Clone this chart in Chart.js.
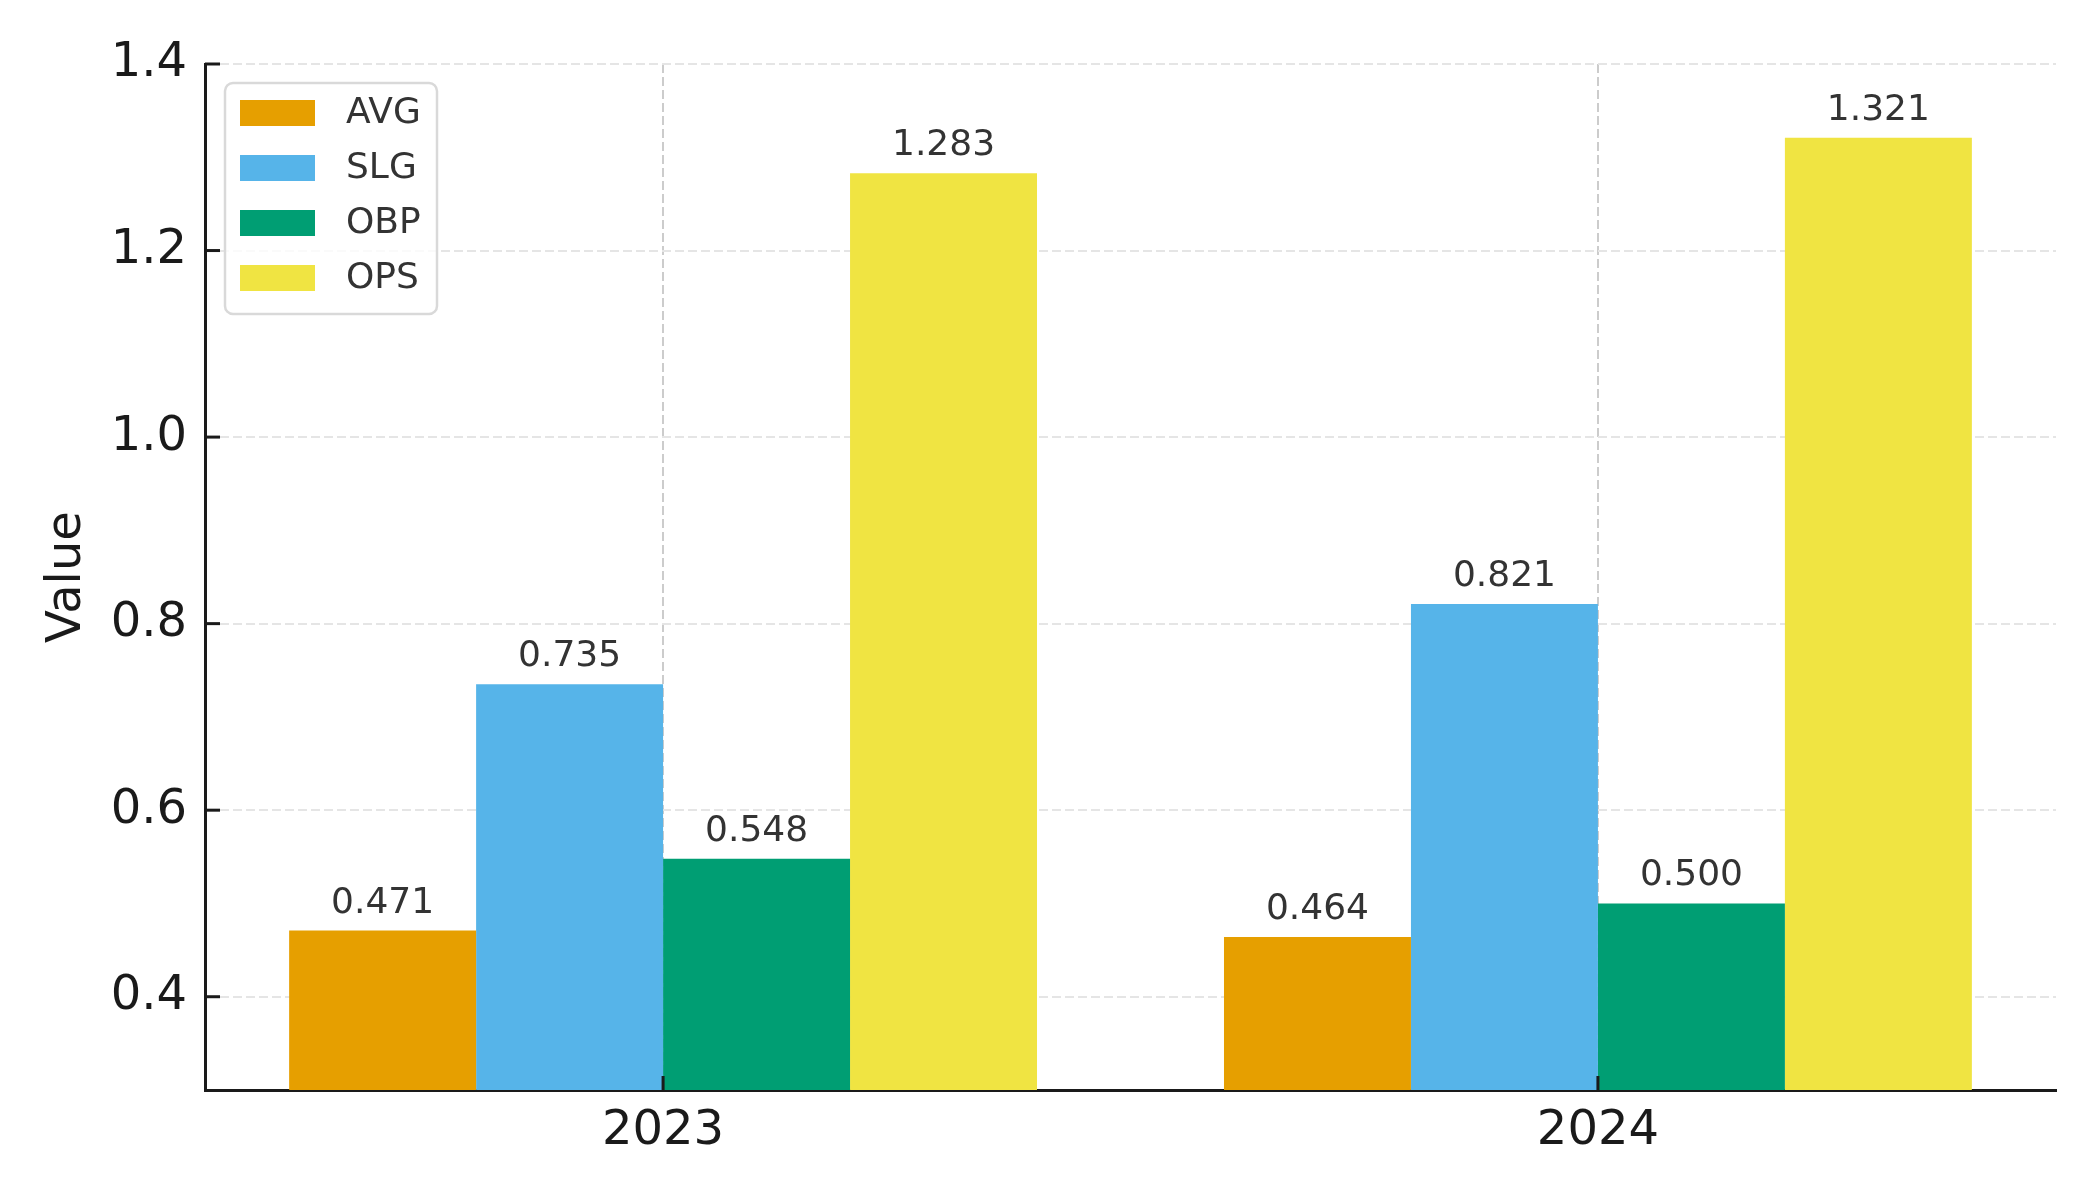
<!DOCTYPE html>
<html><head><meta charset="utf-8">
<script src="https://cdn.jsdelivr.net/npm/chart.js@4/dist/chart.umd.min.js"></script>
<style>html,body{margin:0;padding:0;background:#fff;}#wrap{width:2100px;height:1200px;}</style>
</head><body><div id="wrap"><canvas id="c" width="2100" height="1200"></canvas></div>
<script>
const categories = ['2023', '2024'];
const seriesNames = ['AVG', 'SLG', 'OBP', 'OPS'];
const avgValues = [0.471, 0.464];
const slgValues = [0.735, 0.821];
const obpValues = [0.548, 0.500];
const opsValues = [1.283, 1.321];
const seriesColors = ['#E69F00', '#56B4E9', '#009E73', '#F0E442'];
const yTickValues = [0.4, 0.6, 0.8, 1.0, 1.2, 1.4];
const yMin = 0.3, yMax = 1.4;
const xMin = -0.49, xMax = 1.49;

const allSeries = [avgValues, slgValues, obpValues, opsValues];
const FONT = "'DejaVu Sans', sans-serif";
const DARK = '#1a1a1a';

const datasets = allSeries.map((vals, s) => ({
  label: seriesNames[s],
  data: vals.map((v, i) => ({x: i, y: v})),
  backgroundColor: seriesColors[s],
  borderWidth: 0,
  categoryPercentage: 0.8,
  barPercentage: 1.0
}));

const innerTicks = {
  id: 'innerTicks',
  afterDraw(chart) {
    const ctx = chart.ctx, a = chart.chartArea;
    const xs = chart.scales.x, ys = chart.scales.y;
    ctx.save();
    ctx.strokeStyle = DARK; ctx.lineWidth = 3;
    ys.ticks.forEach((t, i) => {
      const y = ys.getPixelForTick(i);
      ctx.beginPath(); ctx.moveTo(a.left, y); ctx.lineTo(a.left + 15, y); ctx.stroke();
    });
    xs.ticks.forEach((t, i) => {
      const x = xs.getPixelForTick(i);
      ctx.beginPath(); ctx.moveTo(x, a.bottom); ctx.lineTo(x, a.bottom - 14); ctx.stroke();
    });
    ctx.restore();
  }
};

const valueLabels = {
  id: 'valueLabels',
  afterDraw(chart) {
    const ctx = chart.ctx;
    ctx.save();
    ctx.font = '36px ' + FONT;
    ctx.fillStyle = '#333333';
    ctx.textAlign = 'center';
    ctx.textBaseline = 'alphabetic';
    chart.data.datasets.forEach((ds, d) => {
      const meta = chart.getDatasetMeta(d);
      meta.data.forEach((bar, i) => {
        ctx.fillText(ds.data[i].y.toFixed(3), bar.x, bar.y - 18);
      });
    });
    ctx.restore();
  }
};

const boxLegend = {
  id: 'boxLegend',
  afterDraw(chart) {
    const ctx = chart.ctx, a = chart.chartArea;
    const bx = a.left + 20, by = a.top + 19, bw = 212, bh = 231;
    ctx.save();
    ctx.beginPath();
    ctx.roundRect(bx, by, bw, bh, 8);
    ctx.fillStyle = 'rgba(255,255,255,0.8)';
    ctx.fill();
    ctx.lineWidth = 2.5;
    ctx.strokeStyle = '#d9d9d9';
    ctx.stroke();
    ctx.font = '36px ' + FONT;
    ctx.textAlign = 'left';
    ctx.textBaseline = 'middle';
    chart.data.datasets.forEach((ds, i) => {
      const cy = by + 30 + i * 55;
      ctx.fillStyle = ds.backgroundColor;
      ctx.fillRect(bx + 15, cy - 13, 75, 26);
      ctx.fillStyle = '#333333';
      ctx.fillText(ds.label, bx + 121, cy + 1);
    });
    ctx.restore();
  }
};

new Chart(document.getElementById('c'), {
  type: 'bar',
  data: { datasets },
  options: {
    responsive: false,
    animation: false,
    devicePixelRatio: 1,
    layout: { padding: { top: 64, right: 44, left: 0, bottom: 0 } },
    plugins: { legend: { display: false }, tooltip: { enabled: false } },
    scales: {
      x: {
        type: 'linear',
        min: xMin, max: xMax,
        offset: false,
        z: 1,
        afterFit(scale) { scale.height = 110; },
        afterBuildTicks(scale) { scale.ticks = categories.map((c, i) => ({ value: i })); },
        grid: { color: '#cccccc', lineWidth: 2, drawTicks: false, offset: false },
        border: { display: true, color: DARK, width: 3, dash: [9, 4] },
        ticks: {
          padding: 13,
          color: DARK,
          font: { family: FONT, size: 48 },
          callback: (v) => categories[v]
        }
      },
      y: {
        type: 'linear',
        min: yMin, max: yMax,
        z: 1,
        afterFit(scale) { scale.width = 205; },
        afterBuildTicks(scale) { scale.ticks = yTickValues.map(v => ({ value: v })); },
        grid: { color: '#e5e5e5', lineWidth: 2, drawTicks: false },
        border: { display: true, color: DARK, width: 3, dash: [9, 4] },
        ticks: {
          padding: 18,
          color: DARK,
          font: { family: FONT, size: 48 },
          callback: (v) => Number(v).toFixed(1)
        },
        title: {
          display: true,
          text: 'Value',
          color: DARK,
          font: { family: FONT, size: 48, lineHeight: 1.2 },
          padding: { top: 39, bottom: 0 }
        }
      }
    }
  },
  plugins: [innerTicks, valueLabels, boxLegend]
});
</script></body></html>
